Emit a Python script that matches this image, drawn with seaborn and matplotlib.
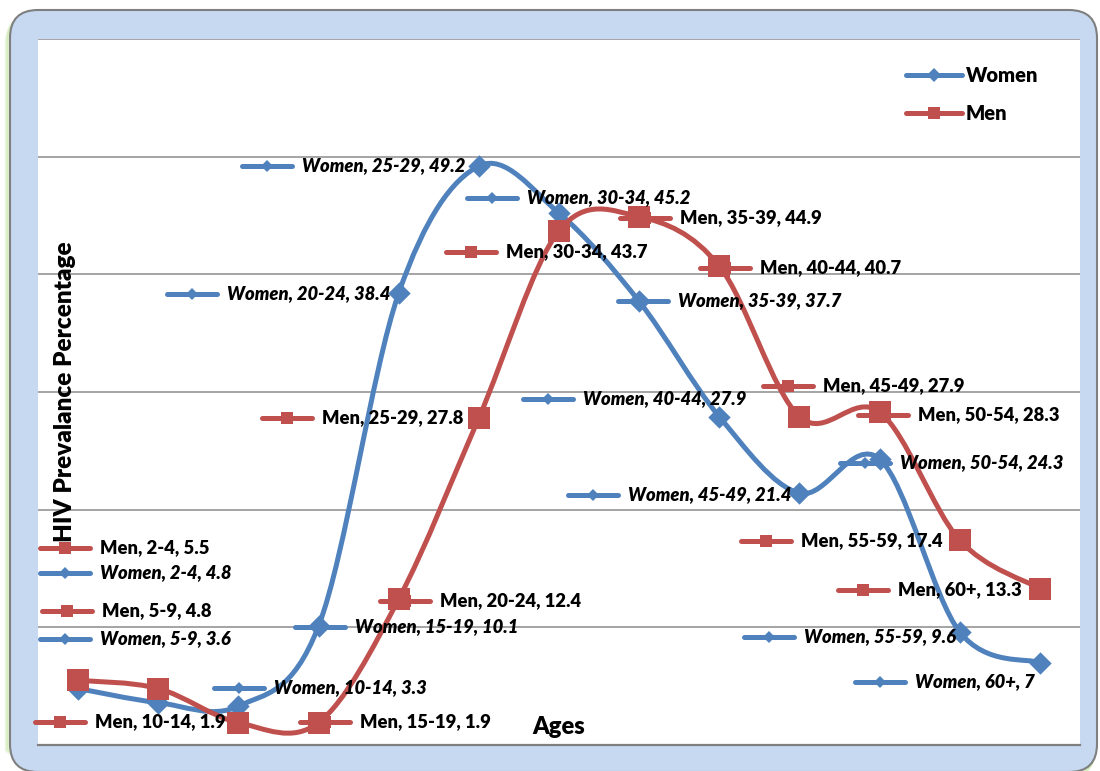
import matplotlib
matplotlib.use("Agg")
import matplotlib.pyplot as plt
import matplotlib.transforms as mtransforms
import numpy as np
import pandas as pd
import seaborn as sns
from matplotlib.lines import Line2D
from matplotlib.patches import FancyBboxPatch, PathPatch
from matplotlib.path import Path

# ---- data ---------------------------------------------------------------
age_groups = ["2-4", "5-9", "10-14", "15-19", "20-24", "25-29", "30-34",
              "35-39", "40-44", "45-49", "50-54", "55-59", "60+"]
women = [4.8, 3.6, 3.3, 10.1, 38.4, 49.2, 45.2, 37.7, 27.9, 21.4, 24.3, 9.6, 7]
men = [5.5, 4.8, 1.9, 1.9, 12.4, 27.8, 43.7, 44.9, 40.7, 27.9, 28.3, 17.4, 13.3]

# ---- label layout (canvas pixels from top-left: key swatch left end, centre y)
women_label_xy = [(40, 573), (40, 639), (214, 688), (295, 627), (167, 294),
                  (242, 166), (467, 198), (618, 301), (523, 399), (568, 495),
                  (840, 463), (744, 637), (855, 682)]
men_label_xy = [(40, 548), (42, 611), (35, 722), (300, 722), (380, 601),
                (262, 418), (446, 252), (620, 218), (700, 268), (763, 386),
                (858, 415), (741, 541), (838, 590)]

BLUE = "#4f81bd"
RED = "#c0504d"
FRAME = "#c6d9f1"
GRID = "#8c8c8c"
W, H = 1100, 771

sns.set_theme(style="white")
plt.rcParams["font.family"] = ["Lato", "DejaVu Sans"]

fig = plt.figure(figsize=(W / 100, H / 100), dpi=100)
fig.patch.set_facecolor("white")
# pixel coordinates measured from the top-left corner of the canvas
T = mtransforms.Affine2D().scale(1 / 100, -1 / 100).translate(0, H / 100) + fig.dpi_scale_trans

# rounded outer frame with a soft green glow on the left
for off, a in [(4, 0.18), (3, 0.25), (2, 0.35)]:
    fig.add_artist(FancyBboxPatch((10 - off, 12 + off), 1087, 762,
                                  boxstyle="round,pad=0,rounding_size=28",
                                  transform=T, facecolor="none",
                                  edgecolor="#b6e08f", lw=2, alpha=a, zorder=-3))
fig.add_artist(FancyBboxPatch((10, 10), 1087, 762,
                              boxstyle="round,pad=0,rounding_size=28",
                              transform=T, facecolor=FRAME,
                              edgecolor="#7f7f7f", lw=1.5, zorder=-2))

ax = fig.add_axes([38 / W, (H - 745) / H, (1080 - 38) / W, (745 - 39) / H])
ax.set_facecolor("white")

df = pd.DataFrame({"age": age_groups, "pos": np.arange(len(age_groups)),
                   "Women": women, "Men": men})


def smooth_path(xs, ys):
    """Cubic Bezier path through the points (Catmull-Rom style smoothing)."""
    pts = np.column_stack([xs, ys]).astype(float)
    n = len(pts)
    verts = [pts[0]]
    codes = [Path.MOVETO]
    for i in range(n - 1):
        p_prev = pts[max(i - 1, 0)]
        p0, p1 = pts[i], pts[i + 1]
        p_next = pts[min(i + 2, n - 1)]
        c1 = p0 + (p1 - p_prev) / 6.0
        c2 = p1 - (p_next - p0) / 6.0
        verts += [c1, c2, p1]
        codes += [Path.CURVE4] * 3
    return Path(verts, codes)


for col, color, zo in [("Women", BLUE, 3), ("Men", RED, 5)]:
    ax.add_patch(PathPatch(smooth_path(df["pos"], df[col]), facecolor="none",
                           edgecolor=color, lw=3.6, capstyle="round",
                           joinstyle="round", zorder=zo))

sns.scatterplot(data=df, x="pos", y="Women", marker="D", s=130, color=BLUE,
                linewidth=0, ax=ax, zorder=4, legend=False)
sns.scatterplot(data=df, x="pos", y="Men", marker="s", s=230, color=RED,
                linewidth=0, ax=ax, zorder=6, legend=False)

ax.set_xlim(-0.5, len(age_groups) - 0.5)
ax.set_ylim(0, 60)
ax.set_yticks(range(0, 61, 10))
ax.set_xticks([])
ax.set_yticklabels([])
ax.tick_params(length=0)
ax.yaxis.grid(True, color=GRID, lw=1.1)
for s in ["left", "right", "top"]:
    ax.spines[s].set_visible(False)
ax.spines["bottom"].set_color("#7f7f7f")
ax.spines["bottom"].set_linewidth(1.6)

ax.set_xlabel("Ages", fontsize=17, fontweight="heavy", color="black")
ax.xaxis.set_label_coords(0.5, 0.0255)
ax.xaxis.label.set_va("center")
ax.set_ylabel("HIV Prevalance Percentage", fontsize=17.5, fontweight="heavy",
              color="black")
ax.yaxis.set_label_coords(0.026, 0.5)
ax.yaxis.label.set_va("center")
ax.yaxis.label.set_zorder(1)


def key_swatch(x0, y, color, marker, ms, length=50):
    fig.add_artist(Line2D([x0, x0 + length], [y, y], transform=T, color=color,
                          lw=3.6, solid_capstyle="round", zorder=10))
    fig.add_artist(Line2D([x0 + length / 2], [y], transform=T, color=color,
                          marker=marker, ms=ms, mew=0, ls="none", zorder=11))


# data labels with series key
for (x0, y), age, v in zip(women_label_xy, age_groups, women):
    key_swatch(x0, y, BLUE, "D", 6.5)
    fig.text(x0 + 60, y, f"Women, {age}, {v:g}", transform=T, ha="left",
             va="center", fontsize=13.2, fontweight="heavy", fontstyle="italic",
             color="black", zorder=12)
for (x0, y), age, v in zip(men_label_xy, age_groups, men):
    key_swatch(x0, y, RED, "s", 8)
    fig.text(x0 + 60, y, f"Men, {age}, {v:g}", transform=T, ha="left",
             va="center", fontsize=13.2, fontweight="heavy", color="black",
             zorder=12)

# legend
for (name, color, marker, ms), y in zip([("Women", BLUE, "D", 7.5),
                                         ("Men", RED, "s", 9)], [75, 113]):
    key_swatch(906, y, color, marker, ms, length=56)
    fig.text(966, y, name, transform=T, ha="left", va="center", fontsize=14.5,
             fontweight="heavy", color="black", zorder=12)

fig.savefig("out.png", dpi=100)
